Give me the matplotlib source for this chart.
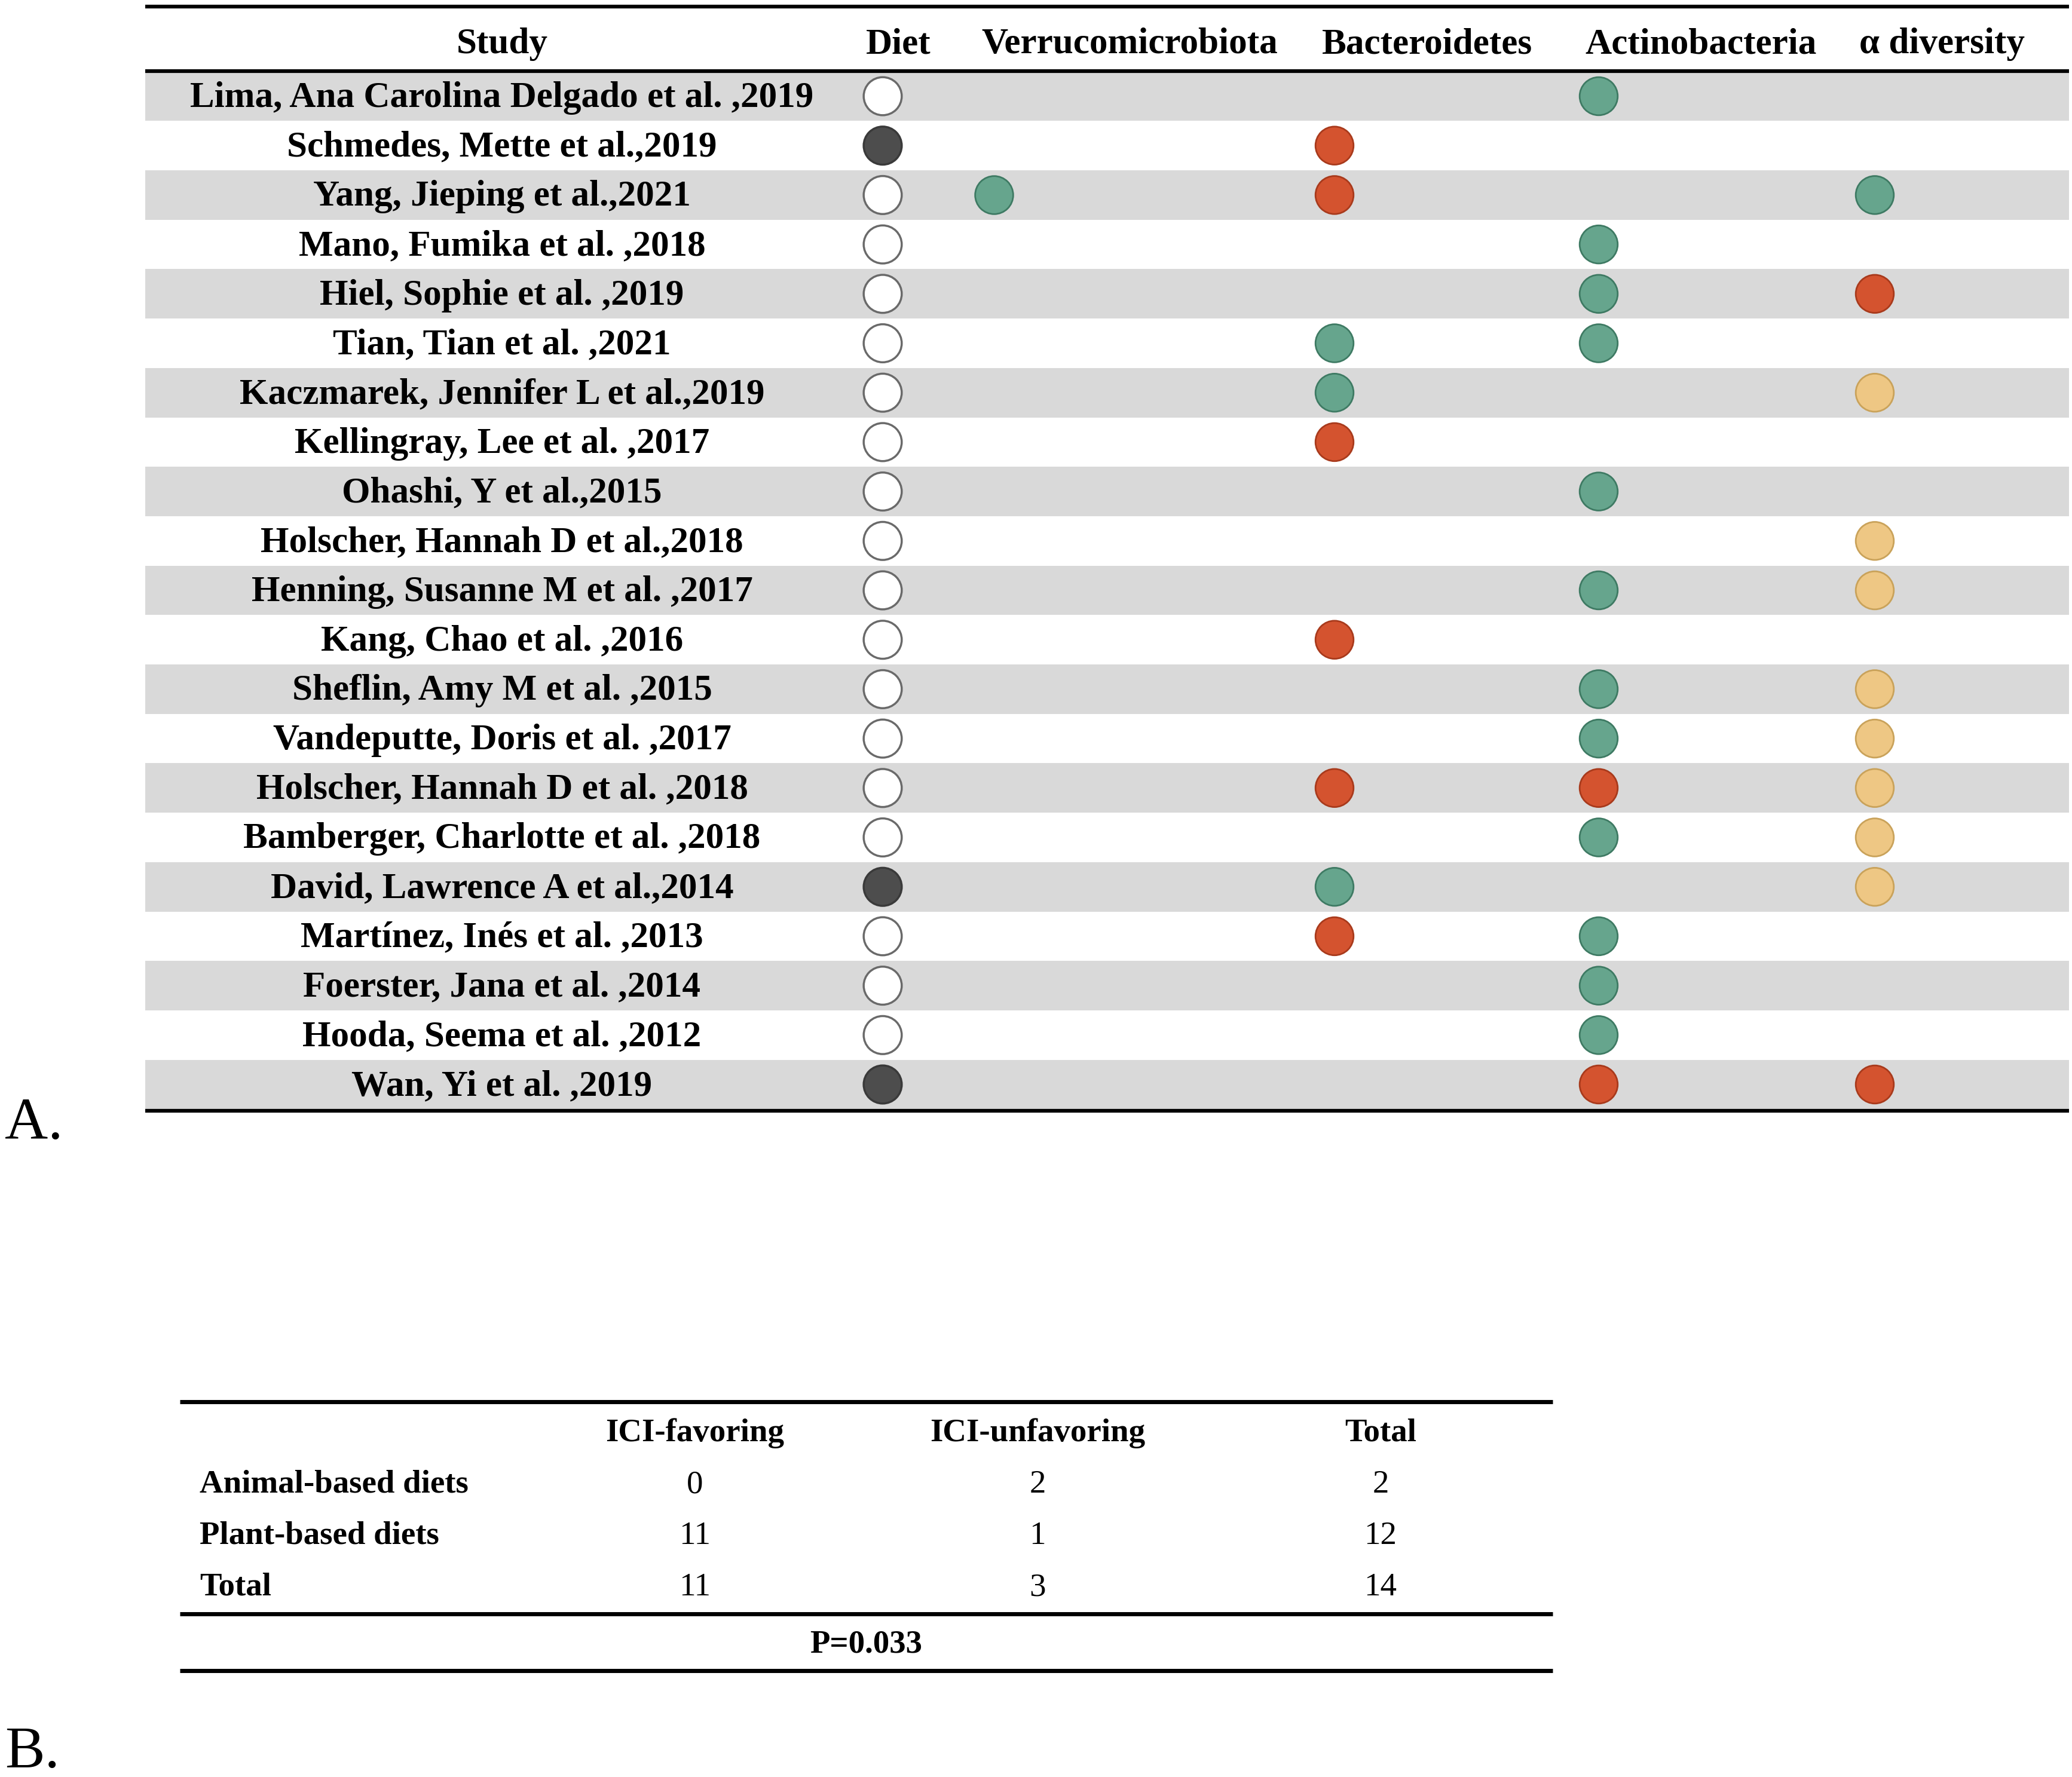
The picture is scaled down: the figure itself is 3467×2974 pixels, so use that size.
import matplotlib.pyplot as plt
from matplotlib.patches import Rectangle

# ---- data ----
studies = [
    "Lima, Ana Carolina Delgado et al. ,2019",
    "Schmedes, Mette et al.,2019",
    "Yang, Jieping et al.,2021",
    "Mano, Fumika et al. ,2018",
    "Hiel, Sophie et al. ,2019",
    "Tian, Tian et al. ,2021",
    "Kaczmarek, Jennifer L et al.,2019",
    "Kellingray, Lee et al. ,2017",
    "Ohashi, Y et al.,2015",
    "Holscher, Hannah D et al.,2018",
    "Henning, Susanne M et al. ,2017",
    "Kang, Chao et al. ,2016",
    "Sheflin, Amy M et al. ,2015",
    "Vandeputte, Doris et al. ,2017",
    "Holscher, Hannah D et al. ,2018",
    "Bamberger, Charlotte et al. ,2018",
    "David, Lawrence A et al.,2014",
    "Martínez, Inés et al. ,2013",
    "Foerster, Jana et al. ,2014",
    "Hooda, Seema et al. ,2012",
    "Wan, Yi et al. ,2019",
]
# diet: P = plant-based, A = animal-based
diet = ["P", "A", "P", "P", "P", "P", "P", "P", "P", "P", "P",
        "P", "P", "P", "P", "P", "A", "P", "P", "P", "A"]
# effect codes: "+" favoring (green), "-" unfavoring (red), "0" no change (yellow), "" none
verrucomicrobiota = ["", "", "+", "", "", "", "", "", "", "", "",
                     "", "", "", "", "", "", "", "", "", ""]
bacteroidetes = ["", "-", "-", "", "", "+", "+", "-", "", "", "",
                 "-", "", "", "-", "", "+", "-", "", "", ""]
actinobacteria = ["+", "", "", "+", "+", "+", "", "", "+", "", "+",
                  "", "+", "+", "-", "+", "", "+", "+", "+", "-"]
alpha_diversity = ["", "", "+", "", "-", "", "0", "", "", "0", "0",
                   "", "0", "0", "0", "0", "0", "", "", "", "-"]

headers_a = ["Study", "Diet", "Verrucomicrobiota", "Bacteroidetes", "Actinobacteria", "α diversity"]

b_cols = ["ICI-favoring", "ICI-unfavoring", "Total"]
b_rows = ["Animal-based diets", "Plant-based diets", "Total"]
b_favoring = [0, 11, 11]
b_unfavoring = [2, 1, 3]
b_total = [2, 12, 14]
p_text = "P=0.033"

# ---- style ----
W, H = 3467, 2974
fs_a = 44
fs_b = 39.5
font = "Liberation Serif"
effect_face = {"+": "#66a58d", "-": "#d4532f", "0": "#eec784"}
effect_edge = {"+": "#3e7a63", "-": "#a83a1c", "0": "#c9a25a"}
dot_size = 2100

fig = plt.figure(figsize=(W / 100, H / 100), dpi=100)
ax = fig.add_axes([0, 0, 1, 1])
ax.set_xlim(0, W)
ax.set_ylim(H, 0)
ax.axis("off")

# ---- panel A ----
x0, x1 = 243, 3462
row0, step = 161, 82.7
n = len(studies)

for i in range(n):
    if i % 2 == 0:
        ax.add_patch(Rectangle((x0, row0 + (i - 0.5) * step), x1 - x0, step,
                               facecolor="#d9d9d9", edgecolor="none", zorder=0))

ax.plot([x0, x1], [11, 11], color="black", lw=4.5, solid_capstyle="butt")
ax.plot([x0, x1], [119, 119], color="black", lw=4.5, solid_capstyle="butt")
ax.plot([x0, x1], [row0 + (n - 0.5) * step + 3, row0 + (n - 0.5) * step + 3],
        color="black", lw=4.5, solid_capstyle="butt")

header_x = [840, 1503, 1890, 2388, 2846, 3250]
for hx, h in zip(header_x, headers_a):
    ax.text(hx, 74, h, ha="center", va="center", fontsize=fs_a,
            fontweight="bold", family=font)

ys = [row0 + i * step for i in range(n)]
for y, s in zip(ys, studies):
    ax.text(840, y + 3, s, ha="center", va="center", fontsize=fs_a,
            fontweight="bold", family=font)

# diet column
diet_face = ["#ffffff" if d == "P" else "#4d4d4d" for d in diet]
diet_edge = ["#6a6a6a" if d == "P" else "#3a3a3a" for d in diet]
ax.scatter([1477] * n, ys, s=dot_size, c=diet_face, edgecolors=diet_edge,
           linewidths=2.5, zorder=3)

col_x = [1663, 2233, 2675, 3137]
for cx, col in zip(col_x, [verrucomicrobiota, bacteroidetes, actinobacteria, alpha_diversity]):
    pts = [(ys[i], v) for i, v in enumerate(col) if v]
    ax.scatter([cx] * len(pts), [p[0] for p in pts], s=dot_size,
               c=[effect_face[p[1]] for p in pts],
               edgecolors=[effect_edge[p[1]] for p in pts],
               linewidths=2, zorder=3)

ax.text(8, 1882, "A.", ha="left", va="center", fontsize=72, family=font)

# ---- panel B ----
bx0, bx1 = 301, 2598
ax.plot([bx0, bx1], [2346, 2346], color="black", lw=5, solid_capstyle="butt")
ax.plot([bx0, bx1], [2701, 2701], color="black", lw=5, solid_capstyle="butt")
ax.plot([bx0, bx1], [2796, 2796], color="black", lw=5, solid_capstyle="butt")

b_col_x = [1163, 1736, 2310]
for cx, c in zip(b_col_x, b_cols):
    ax.text(cx, 2399, c, ha="center", va="center", fontsize=fs_b,
            fontweight="bold", family=font)

b_row_y = [2485, 2571, 2657]
for ry, r, a, b, t in zip(b_row_y, b_rows, b_favoring, b_unfavoring, b_total):
    ax.text(334, ry, r, ha="left", va="center", fontsize=fs_b,
            fontweight="bold", family=font)
    for cx, v in zip(b_col_x, [a, b, t]):
        ax.text(cx, ry, str(v), ha="center", va="center", fontsize=fs_b, family=font)

ax.text(1449, 2752, p_text, ha="center", va="center", fontsize=fs_b,
        fontweight="bold", family=font)

ax.text(8, 2934, "B.", ha="left", va="center", fontsize=72, family=font)

fig.savefig("out.png", dpi=100)
